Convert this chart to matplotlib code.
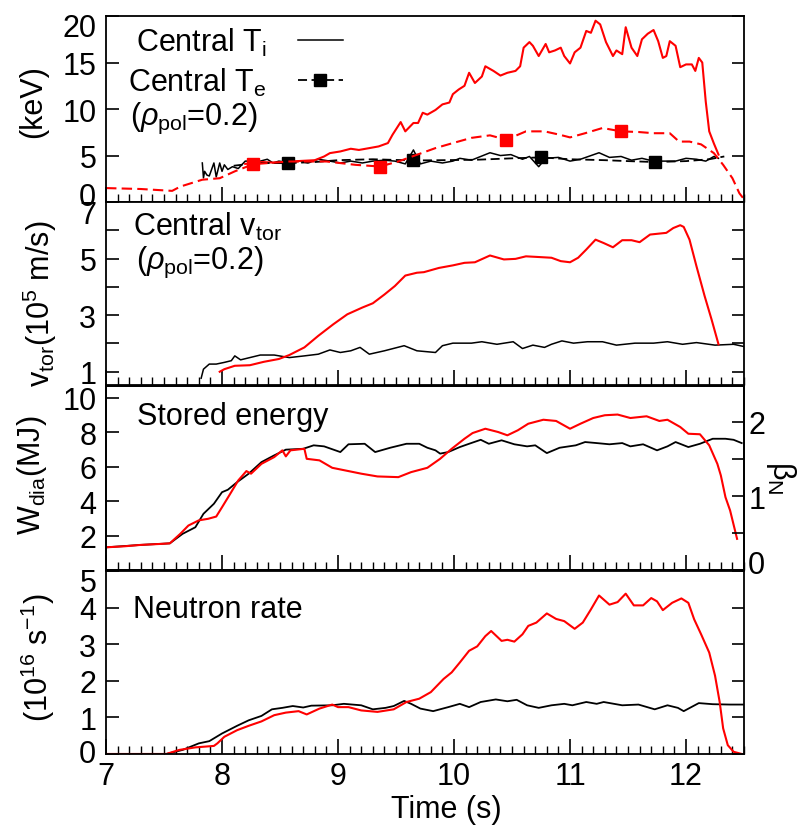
import matplotlib
matplotlib.use('Agg')
import matplotlib.pyplot as plt
import numpy as np
from matplotlib.ticker import MultipleLocator, FixedLocator
from matplotlib.transforms import ScaledTranslation

plt.rcParams['font.family'] = ['Liberation Sans', 'DejaVu Sans']
plt.rcParams['mathtext.fontset'] = 'custom'
plt.rcParams['mathtext.rm'] = 'Liberation Sans'
plt.rcParams['mathtext.it'] = 'Liberation Sans:italic'
plt.rcParams['mathtext.bf'] = 'Liberation Sans:bold'
plt.rcParams['mathtext.default'] = 'regular'

FS = 22

# ---- central ion temperature (keV) ----
t_ti_b = [7.83, 7.84, 7.85, 7.87, 7.89, 7.93, 7.95, 7.98, 8.0, 8.02, 8.05, 8.09, 8.14, 8.2, 8.27, 8.33,
          8.39, 8.44, 8.49, 8.58, 8.67, 8.74, 8.83, 8.93, 9.02, 9.11, 9.21, 9.3, 9.4, 9.49, 9.58, 9.65,
          9.71, 9.8, 9.9, 9.99, 10.05, 10.15, 10.21, 10.31, 10.4, 10.49, 10.59, 10.65, 10.73, 10.79,
          10.9, 11.0, 11.09, 11.25, 11.34, 11.44, 11.53, 11.62, 11.72, 11.81, 11.91, 12.0, 12.09,
          12.17, 12.24, 12.28]
ti_b = [4.2, 2.6, 3.3, 2.9, 2.8, 4.2, 2.7, 4.2, 3.3, 4.0, 3.5, 3.8, 3.6, 4.4, 4.4, 4.4, 4.6, 4.2, 4.4,
        4.2, 4.4, 4.2, 4.6, 4.4, 4.2, 4.4, 4.2, 4.4, 4.5, 4.4, 4.1, 5.6, 4.1, 4.4, 4.2, 4.4, 4.7, 4.5,
        4.8, 5.3, 5.0, 5.1, 4.6, 4.9, 3.8, 4.7, 4.8, 4.4, 4.6, 5.3, 4.8, 4.9, 4.5, 4.7, 4.4, 4.4, 4.4,
        4.7, 4.6, 4.4, 4.9, 4.7]
t_ti_r = [8.2, 8.35, 8.5, 8.65, 8.8, 8.88, 8.93, 9.02, 9.11, 9.18, 9.27, 9.35, 9.43, 9.47, 9.54, 9.58,
          9.65, 9.69, 9.73, 9.77, 9.84, 9.9, 9.96, 9.99, 10.04, 10.09, 10.13, 10.18, 10.24, 10.27,
          10.34, 10.4, 10.46, 10.53, 10.57, 10.6, 10.65, 10.68, 10.73, 10.79, 10.82, 10.87, 10.92,
          10.95, 11.0, 11.04, 11.09, 11.14, 11.18, 11.22, 11.26, 11.31, 11.37, 11.4, 11.45, 11.48,
          11.53, 11.58, 11.62, 11.67, 11.72, 11.76, 11.8, 11.83, 11.86, 11.91, 11.95, 12.0, 12.05,
          12.08, 12.11, 12.14, 12.17, 12.2, 12.24, 12.28]
ti_r = [4.1, 4.3, 4.2, 4.4, 4.5, 4.9, 5.26, 5.44, 5.73, 5.6, 5.8, 5.98, 6.34, 7.24, 8.6, 7.6, 8.5, 8.5,
        9.6, 9.4, 9.9, 10.5, 10.7, 11.6, 12.1, 12.5, 13.9, 12.8, 13.5, 14.6, 14.1, 13.6, 13.9, 14.1,
        14.6, 16.6, 17.2, 16.8, 15.7, 17.0, 16.1, 16.3, 16.6, 15.7, 14.9, 16.1, 16.6, 18.4, 18.2,
        19.5, 19.1, 17.2, 15.7, 16.3, 15.9, 18.8, 16.6, 15.7, 17.5, 18.1, 18.5, 17.3, 15.5, 15.7,
        17.3, 16.8, 14.5, 14.8, 14.8, 14.1, 15.5, 15.0, 10.8, 7.6, 6.3, 5.1]

# ---- central electron temperature (keV) ----
t_te_b = [8.1, 8.3, 8.57, 8.8, 9.0, 9.3, 9.65, 9.9, 10.2, 10.5, 10.75, 11.0, 11.3, 11.5, 11.73, 12.0,
          12.2, 12.33]
te_b = [3.9, 4.2, 4.18, 4.3, 4.5, 4.6, 4.47, 4.5, 4.55, 4.7, 4.8, 4.6, 4.5, 4.4, 4.3, 4.4, 4.6, 4.9]
t_te_r = [7.0, 7.3, 7.57, 7.64, 7.83, 7.98, 8.11, 8.27, 8.58, 8.9, 9.15, 9.36, 9.52, 9.68, 9.84, 9.99,
          10.15, 10.31, 10.45, 10.62, 10.78, 10.91, 11.0, 11.13, 11.28, 11.44, 11.59, 11.72, 11.86,
          11.94, 12.03, 12.13, 12.24, 12.32, 12.4, 12.46, 12.5]
te_r = [1.5, 1.4, 1.2, 1.66, 2.4, 2.56, 3.3, 4.07, 4.36, 4.36, 4.0, 3.82, 4.36, 5.08, 5.8, 6.34, 6.9,
        7.17, 6.7, 7.6, 7.6, 7.24, 6.95, 7.4, 7.96, 7.6, 7.53, 7.4, 7.4, 6.5, 6.5, 6.2, 5.26, 4.0,
        2.56, 0.94, 0.3]
te_b_marks = [8.57, 9.65, 10.75, 11.73]
te_r_marks = [8.27, 9.36, 10.45, 11.44]

# ---- central toroidal rotation (1e5 m/s) ----
t_v_b = [7.82, 7.84, 7.89, 7.95, 8.02, 8.08, 8.11, 8.16, 8.24, 8.33, 8.45, 8.58, 8.71, 8.83, 8.93,
         9.02, 9.11, 9.19, 9.27, 9.4, 9.57, 9.68, 9.84, 9.9, 9.99, 10.15, 10.24, 10.37, 10.51, 10.59,
         10.68, 10.78, 10.84, 10.93, 11.03, 11.15, 11.28, 11.4, 11.56, 11.72, 11.84, 11.97, 12.09,
         12.25, 12.41, 12.5]
v_b = [0.77, 1.09, 1.27, 1.27, 1.33, 1.39, 1.56, 1.42, 1.5, 1.59, 1.59, 1.5, 1.56, 1.62, 1.77, 1.68,
       1.74, 1.86, 1.62, 1.74, 1.92, 1.74, 1.68, 1.92, 2.01, 2.01, 2.06, 1.97, 2.06, 1.82, 1.94,
       1.86, 1.97, 2.09, 2.01, 2.06, 2.06, 1.94, 2.01, 2.01, 2.06, 1.97, 2.03, 1.94, 1.97, 1.89]
t_v_r = [7.98, 8.02, 8.11, 8.24, 8.36, 8.49, 8.58, 8.71, 8.83, 8.96, 9.08, 9.21, 9.3, 9.4, 9.49, 9.58,
         9.68, 9.74, 9.87, 9.99, 10.09, 10.18, 10.31, 10.43, 10.53, 10.62, 10.71, 10.84, 10.92, 11.0,
         11.07, 11.14, 11.22, 11.29, 11.37, 11.45, 11.53, 11.6, 11.69, 11.83, 11.89, 11.95, 11.98,
         12.03, 12.09, 12.16, 12.22, 12.28]
v_r = [1.0, 1.09, 1.21, 1.23, 1.35, 1.45, 1.59, 1.86, 2.27, 2.68, 3.03, 3.27, 3.42, 3.73, 4.03, 4.4,
       4.5, 4.52, 4.67, 4.76, 4.85, 4.87, 5.11, 4.97, 4.99, 5.08, 5.06, 5.03, 4.91, 4.87, 5.03, 5.32,
       5.67, 5.55, 5.4, 5.65, 5.65, 5.58, 5.85, 5.91, 6.08, 6.18, 6.12, 5.67, 4.73, 3.68, 2.85, 1.97]

# ---- diamagnetic stored energy (MJ) ----
t_w_b = [7.0, 7.3, 7.55, 7.66, 7.77, 7.84, 7.93, 8.0, 8.05, 8.13, 8.23, 8.34, 8.45, 8.55, 8.7, 8.79,
         8.88, 9.02, 9.09, 9.23, 9.32, 9.45, 9.59, 9.7, 9.77, 9.84, 9.88, 9.95, 10.05, 10.13, 10.23,
         10.3, 10.41, 10.52, 10.63, 10.7, 10.8, 10.91, 11.05, 11.13, 11.23, 11.34, 11.45, 11.52,
         11.63, 11.75, 11.84, 11.91, 12.02, 12.12, 12.23, 12.34, 12.41, 12.48]
w_b = [1.34, 1.48, 1.57, 2.12, 2.5, 3.28, 3.86, 4.53, 4.67, 5.11, 5.6, 6.27, 6.66, 6.99, 7.04, 7.24,
       7.18, 6.85, 7.3, 7.33, 6.85, 7.1, 7.33, 7.33, 7.1, 6.95, 6.76, 6.85, 7.14, 7.33, 7.56, 7.33,
       7.53, 7.3, 7.18, 7.24, 6.79, 7.1, 7.24, 7.43, 7.37, 7.3, 7.37, 7.18, 7.3, 6.95, 7.18, 7.43,
       7.14, 7.33, 7.62, 7.62, 7.56, 7.37]
t_w_r = [7.0, 7.16, 7.3, 7.48, 7.55, 7.64, 7.71, 7.8, 7.88, 7.95, 8.0, 8.07, 8.14, 8.21, 8.25, 8.34,
         8.45, 8.52, 8.55, 8.59, 8.71, 8.73, 8.84, 8.95, 9.09, 9.2, 9.34, 9.52, 9.63, 9.77, 9.88, 9.98,
         10.09, 10.16, 10.27, 10.38, 10.46, 10.55, 10.64, 10.77, 10.88, 11.0, 11.09, 11.2, 11.3,
         11.41, 11.52, 11.66, 11.77, 11.84, 11.95, 12.02, 12.12, 12.2, 12.27, 12.3, 12.34, 12.38, 12.44]
w_r = [1.34, 1.4, 1.48, 1.54, 1.57, 2.12, 2.6, 2.9, 2.99, 3.12, 3.66, 4.43, 5.21, 5.75, 5.6, 6.17,
       6.56, 6.95, 6.6, 6.95, 7.04, 6.46, 6.37, 5.94, 5.75, 5.6, 5.44, 5.4, 5.69, 5.94, 6.46, 7.04,
       7.62, 7.95, 8.2, 8.01, 7.82, 8.11, 8.49, 8.72, 8.65, 8.2, 8.49, 8.82, 8.98, 9.02, 8.82, 8.92,
       8.65, 8.72, 8.3, 7.91, 7.88, 7.24, 6.17, 5.5, 4.24, 3.47, 1.83]
beta_per_MJ = 0.2328  # beta_N corresponding to 1 MJ

# ---- neutron rate (1e16 /s) ----
t_n_b = [7.0, 7.52, 7.66, 7.8, 7.89, 8.0, 8.13, 8.23, 8.34, 8.43, 8.52, 8.61, 8.7, 8.77, 8.95, 9.05,
         9.2, 9.3, 9.41, 9.48, 9.57, 9.63, 9.71, 9.82, 9.95, 10.05, 10.13, 10.23, 10.36, 10.46, 10.54,
         10.63, 10.73, 10.84, 10.95, 11.02, 11.14, 11.23, 11.29, 11.45, 11.59, 11.73, 11.84, 11.93,
         11.98, 12.11, 12.23, 12.38, 12.5]
n_b = [0, 0, 0.11, 0.29, 0.35, 0.56, 0.77, 0.92, 1.04, 1.22, 1.26, 1.31, 1.27, 1.32, 1.33, 1.37, 1.33,
       1.22, 1.26, 1.31, 1.45, 1.37, 1.24, 1.17, 1.28, 1.37, 1.28, 1.42, 1.49, 1.44, 1.48, 1.33,
       1.26, 1.33, 1.37, 1.33, 1.42, 1.37, 1.42, 1.33, 1.35, 1.22, 1.33, 1.26, 1.17, 1.39, 1.36,
       1.35, 1.35]
t_n_r = [7.0, 7.52, 7.63, 7.77, 7.93, 7.96, 8.02, 8.13, 8.23, 8.34, 8.45, 8.55, 8.66, 8.73, 8.84, 8.95,
         9.0, 9.09, 9.2, 9.34, 9.48, 9.59, 9.7, 9.8, 9.91, 9.98, 10.05, 10.13, 10.2, 10.27, 10.32,
         10.38, 10.41, 10.46, 10.52, 10.59, 10.64, 10.71, 10.8, 10.88, 10.95, 11.04, 11.11, 11.18,
         11.25, 11.34, 11.41, 11.48, 11.55, 11.63, 11.7, 11.75, 11.8, 11.88, 11.96, 12.02, 12.07,
         12.13, 12.2, 12.25, 12.29, 12.32, 12.36, 12.41, 12.48]
n_r = [0, 0, 0.11, 0.18, 0.22, 0.29, 0.47, 0.65, 0.77, 0.89, 1.06, 1.13, 1.17, 1.08, 1.24, 1.35, 1.28,
       1.28, 1.19, 1.15, 1.22, 1.42, 1.51, 1.69, 2.05, 2.23, 2.5, 2.82, 2.94, 3.22, 3.36, 3.18, 3.09,
       3.12, 3.07, 3.27, 3.5, 3.59, 3.84, 3.69, 3.63, 3.42, 3.59, 3.95, 4.33, 4.08, 4.15, 4.38,
       4.06, 4.06, 4.26, 4.17, 3.93, 4.13, 4.25, 4.13, 3.68, 3.27, 2.77, 2.14, 1.42, 0.7, 0.24,
       0.06, 0]

RED = '#ff0000'
LW_R, LW_B = 1.5, 1.3
DASH = (0, (5, 2.5))


def mark_index(t, marks):
    t = np.asarray(t)
    return [int(np.argmin(np.abs(t - m))) for m in marks]


def style_panel(ax, right=True):
    ax.set_xlim(7, 12.5)
    ax.xaxis.set_major_locator(MultipleLocator(1))
    ax.xaxis.set_minor_locator(MultipleLocator(0.1))
    ax.tick_params(axis='x', which='major', direction='in', length=11, width=1.2,
                   top=False, labelsize=FS, pad=5)
    ax.tick_params(axis='x', which='minor', direction='in', length=5.5, width=1.0, top=False)
    ax.tick_params(axis='y', which='both', direction='in', length=9, width=1.2,
                   right=right, labelsize=FS, pad=7)
    for s in ax.spines.values():
        s.set_linewidth(1.3)


def nudge_label(axis, value, dy_px):
    # shift the tick label sitting on a panel edge back inside the panel
    off = ScaledTranslation(0, dy_px / fig.dpi, fig.dpi_scale_trans)
    for tick, loc in zip(axis.get_major_ticks(), axis.get_majorticklocs()):
        if np.isclose(loc, value):
            tick.label1.set_transform(tick.label1.get_transform() + off)
            tick.label2.set_transform(tick.label2.get_transform() + off)


fig = plt.figure(figsize=(7.99, 8.28), dpi=100)
L, W = 0.1327, 0.7985
ax1 = fig.add_axes([L, 0.7548, W, 0.2246])
ax2 = fig.add_axes([L, 0.5338, W, 0.2210], sharex=ax1)
ax3 = fig.add_axes([L, 0.3098, W, 0.2234], sharex=ax1)
ax4 = fig.add_axes([L, 0.0882, W, 0.2210], sharex=ax1)

# temperatures
ln_ti, = ax1.plot(t_ti_b, ti_b, color='k', lw=1.1)
ax1.plot(t_ti_r, ti_r, color=RED, lw=LW_R)
ln_te, = ax1.plot(t_te_b, te_b, color='k', lw=LW_B, ls=DASH, marker='s', ms=8,
                  markevery=mark_index(t_te_b, te_b_marks))
ax1.plot(t_te_r, te_r, color=RED, lw=LW_R, ls=DASH, marker='s', ms=8,
         markevery=mark_index(t_te_r, te_r_marks))
style_panel(ax1)
ax1.set_ylim(0, 20)
ax1.set_yticks([0, 5, 10, 15, 20])
ax1.tick_params(labelbottom=False)
ax1.set_ylabel('(keV)', fontsize=FS, va='center', ha='center')
ax1.yaxis.set_label_coords(-0.114, 0.543)
ax1.legend([ln_ti, ln_te], ['Central T$_i$', 'Central T$_e$'], loc='upper left',
           bbox_to_anchor=(0.035, 0.947), frameon=False, markerfirst=False, fontsize=FS,
           handlelength=1.5, handletextpad=1.0, labelspacing=0.25, borderaxespad=0,
           borderpad=0, numpoints=1)
ax1.text(0.037, 0.457, r'($\mathit{\rho}_{pol}$=0.2)', transform=ax1.transAxes,
         fontsize=FS, va='center', ha='left')

# toroidal rotation
ax2.plot(t_v_b, v_b, color='k', lw=1.1)
ax2.plot(t_v_r, v_r, color=RED, lw=LW_R)
style_panel(ax2)
ax2.set_ylim(0.53, 7)
ax2.yaxis.set_major_locator(FixedLocator([1, 3, 5, 7]))
ax2.yaxis.set_minor_locator(FixedLocator([2, 4, 6]))
ax2.tick_params(labelbottom=False)
ax2.set_ylabel('v$_{tor}$(10$^5$ m/s)', fontsize=FS, va='center', ha='center')
ax2.yaxis.set_label_coords(-0.103, 0.448)
ax2.text(0.042, 0.869, 'Central v$_{tor}$', transform=ax2.transAxes, fontsize=FS,
         va='center', ha='left')
ax2.text(0.047, 0.678, r'($\mathit{\rho}_{pol}$=0.2)', transform=ax2.transAxes,
         fontsize=FS, va='center', ha='left')

# stored energy, with beta_N scale on the right
ax3.plot(t_w_b, w_b, color='k', lw=LW_B)
ax3.plot(t_w_r, w_r, color=RED, lw=LW_R)
style_panel(ax3, right=False)
ax3.set_ylim(0, 10.7)
ax3.set_yticks([2, 4, 6, 8, 10])
ax3.tick_params(labelbottom=False)
ax3.set_ylabel('W$_{dia}$(MJ)', fontsize=FS, va='center', ha='center')
ax3.yaxis.set_label_coords(-0.116, 0.518)
ax3.text(0.048, 0.837, 'Stored energy', transform=ax3.transAxes, fontsize=FS,
         va='center', ha='left')
ax3r = ax3.twinx()
ax3r.set_ylim(0, 10.7 * beta_per_MJ)
ax3r.yaxis.set_major_locator(FixedLocator([0, 1, 2]))
ax3r.yaxis.set_minor_locator(FixedLocator([0.5, 1.5]))
ax3r.tick_params(axis='y', which='both', direction='in', length=9, width=1.2,
                 labelsize=FS, pad=3)
ax3r.set_ylabel(r'$\beta_N$', fontsize=FS, rotation=270, va='center', ha='center')
ax3r.yaxis.set_label_coords(1.058, 0.507)
for s in ax3r.spines.values():
    s.set_linewidth(1.3)

# neutron rate
ax4.plot(t_n_b, n_b, color='k', lw=LW_B)
ax4.plot(t_n_r, n_r, color=RED, lw=LW_R)
style_panel(ax4)
ax4.set_ylim(0, 5)
ax4.set_yticks([0, 1, 2, 3, 4, 5])
ax4.set_ylabel('(10$^{16}$ s$^{-1}$)', fontsize=FS, va='center', ha='center')
ax4.yaxis.set_label_coords(-0.107, 0.53)
ax4.text(0.042, 0.792, 'Neutron rate', transform=ax4.transAxes, fontsize=FS,
         va='center', ha='left')
ax4.set_xlabel('Time (s)', fontsize=FS, va='center')
ax4.xaxis.set_label_coords(0.534, -0.30)

# edge tick labels are pulled inward so neighbouring panels do not collide
fig.canvas.draw()
nudge_label(ax1.yaxis, 20, -8)
nudge_label(ax1.yaxis, 0, 9)
nudge_label(ax2.yaxis, 7, -9)
nudge_label(ax4.yaxis, 5, -9)
nudge_label(ax4.yaxis, 0, 3)
nudge_label(ax3r.yaxis, 0, 9)

fig.savefig('out.png', dpi=100)
